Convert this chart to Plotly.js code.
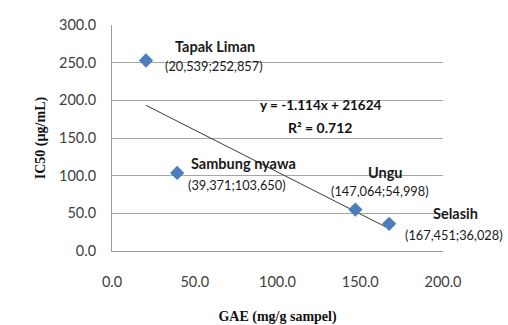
<!DOCTYPE html>
<html>
<head>
<meta charset="utf-8">
<script src="https://cdn.plot.ly/plotly-3.0.1.min.js"></script>
<style>html,body{margin:0;padding:0;background:#fff;}#chart{width:508px;height:325px;}</style>
</head>
<body>
<div id="chart"></div>
<script>
// Data
var names = ["Tapak Liman", "Sambung nyawa", "Ungu", "Selasih"];
var gae = [20.539, 39.371, 147.064, 167.451];
var ic50 = [252.857, 103.650, 54.998, 36.028];
var pointLabels = ["(20,539;252,857)", "(39,371;103,650)", "(147,064;54,998)", "(167,451;36,028)"];
var slope = -1.114;
var intercept = 216.24;
var equationText = "y = -1.114x + 21624";
var r2Text = "R\u00b2 = 0.712";
var xTicks = [0, 50, 100, 150, 200];
var yTicks = [0, 50, 100, 150, 200, 250, 300];

// label offsets (px) relative to each point: [xshift name, yshift name, xshift value, yshift value]
var offsets = [
  [69, 14, 68, -5],
  [66, 9, 60, -12],
  [30, 37, 25, 19],
  [66, 10, 65, -11]
];

var xMin = Math.min.apply(null, gae), xMax = Math.max.apply(null, gae);
var trend = {
  x: [xMin, xMax],
  y: [slope * xMin + intercept, slope * xMax + intercept],
  mode: "lines",
  line: {color: "#3a3a3a", width: 1},
  hoverinfo: "skip",
  showlegend: false
};
var pts = {
  x: gae, y: ic50, mode: "markers",
  marker: {symbol: "diamond", size: 11, color: "#4A7EBB"},
  showlegend: false
};

var annotations = [];
for (var i = 0; i < names.length; i++) {
  annotations.push({x: gae[i], y: ic50[i], xref: "x", yref: "y", text: "<b>" + names[i] + "</b>",
    showarrow: false, xanchor: "center", yanchor: "middle", xshift: offsets[i][0], yshift: offsets[i][1],
    font: {family: "Lato, 'Open Sans', sans-serif", size: 14.5, color: "#1a1a1a"}});
  annotations.push({x: gae[i], y: ic50[i], xref: "x", yref: "y", text: pointLabels[i],
    showarrow: false, xanchor: "center", yanchor: "middle", xshift: offsets[i][2], yshift: offsets[i][3],
    font: {family: "Lato, 'Open Sans', sans-serif", size: 12.8, color: "#1a1a1a"}});
}
annotations.push({x: 125.7, y: 193.8, xref: "x", yref: "y", text: "<b>" + equationText + "</b>", showarrow: false,
  xanchor: "center", yanchor: "middle", font: {family: "Lato, 'Open Sans', sans-serif", size: 13.5, color: "#111"}});
annotations.push({x: 125.7, y: 164.6, xref: "x", yref: "y", text: "<b>" + r2Text + "</b>", showarrow: false,
  xanchor: "center", yanchor: "middle", font: {family: "Lato, 'Open Sans', sans-serif", size: 14, color: "#111"}});

var layout = {
  width: 508, height: 325,
  margin: {l: 112, r: 65, t: 25, b: 74, pad: 0},
  paper_bgcolor: "#fff", plot_bgcolor: "#fff",
  xaxis: {
    range: [0, 200], tickvals: xTicks, ticktext: xTicks.map(function(v){return v.toFixed(1);}),
    showgrid: false, zeroline: false, showline: true, linecolor: "#9a9a9a", linewidth: 1,
    ticks: "", ticklabelstandoff: 18,
    tickfont: {family: "Lato, 'Open Sans', sans-serif", size: 14.5, color: "#404040"},
    title: {text: "<b>GAE (mg/g sampel)</b>", standoff: 23,
      font: {family: "'Liberation Serif', 'Times New Roman', serif", size: 14, color: "#111"}}
  },
  yaxis: {
    range: [0, 300], tickvals: yTicks, ticktext: yTicks.map(function(v){return v.toFixed(1);}),
    showgrid: true, gridcolor: "#a6a6a6", gridwidth: 1, zeroline: false,
    showline: true, linecolor: "#9a9a9a", linewidth: 1,
    ticks: "", ticklabelstandoff: 12,
    tickfont: {family: "Lato, 'Open Sans', sans-serif", size: 14.5, color: "#404040"},
    title: {text: "<b>IC50 (\u00b5g/mL)</b>", standoff: 10,
      font: {family: "'Liberation Serif', 'Times New Roman', serif", size: 14, color: "#111"}}
  },
  annotations: annotations
};

Plotly.newPlot("chart", [trend, pts], layout, {staticPlot: true, displayModeBar: false});
</script>
</body>
</html>
